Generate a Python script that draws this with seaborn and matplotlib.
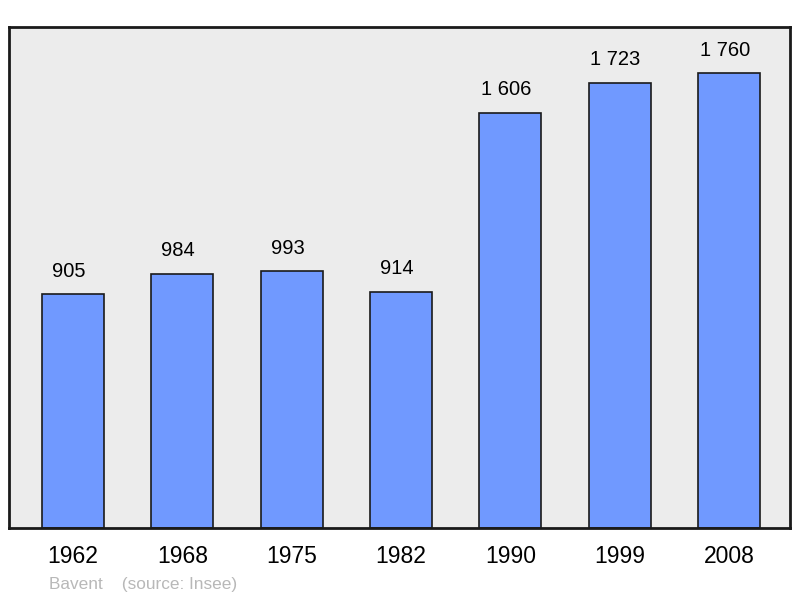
import matplotlib
matplotlib.use("Agg")
import matplotlib.pyplot as plt
import seaborn as sns
import pandas as pd

years = ["1962", "1968", "1975", "1982", "1990", "1999", "2008"]
population = [905, 984, 993, 914, 1606, 1723, 1760]
credit = "Bavent    (source: Insee)"

sns.set_style("white")
plt.rcParams["font.family"] = ["Liberation Sans", "DejaVu Sans"]

df = pd.DataFrame({"year": years, "pop": population})

fig = plt.figure(figsize=(8.0, 5.98), dpi=100)
ax = fig.add_axes([9/800, 1-528/598, 781/800, 501/598])
ax.set_facecolor("#ececec")

sns.barplot(data=df, x="year", y="pop", color="#7099ff", saturation=1,
            width=0.567, edgecolor="#1a1a1a", linewidth=1.2, ax=ax)

ax.set_xlim(-0.585, 6.558)
ax.set_ylim(0, 1938)
ax.set_yticks([])
ax.set_xlabel("")
ax.set_ylabel("")
ax.tick_params(axis="x", length=0, labelsize=16.5, pad=12, labelcolor="#000000")
for s in ax.spines.values():
    s.set_visible(True)
    s.set_color("#1a1a1a")
    s.set_linewidth(2)

for i, v in enumerate(population):
    label = f"{v:,}".replace(",", " ")
    ax.annotate(label, (i, v), xytext=(-3, 16.5), textcoords="offset points",
                ha="center", va="center", fontsize=14.5, color="#000000")

fig.text(49/800, 1-584/598, credit, fontsize=12.4, color="#b8b8b8",
         ha="left", va="center")

fig.savefig("out.png", dpi=100)
